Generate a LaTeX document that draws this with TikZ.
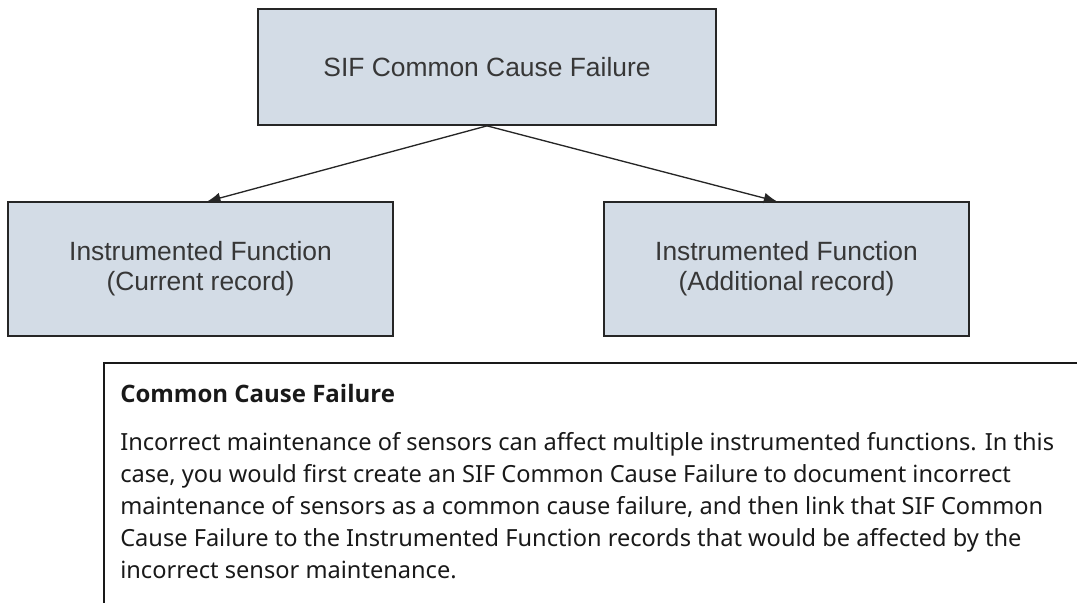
\documentclass[tikz,border=0pt]{standalone}
\usepackage{fontspec}
\setmainfont{Noto Sans}
\newfontfamily\headfont{Open Sans}
\newfontfamily\boxfont{Liberation Sans}
\usetikzlibrary{arrows.meta,positioning}
\definecolor{boxfill}{RGB}{211,220,230}
\definecolor{boxtext}{RGB}{55,55,55}
\tikzset{
  blk/.style={rectangle, draw=black!85, line width=1.3pt, fill=boxfill,
              align=center, text=boxtext, font=\boxfont\fontsize{19.8}{22.5}\selectfont},
  ar/.style={-{Latex[length=10pt,width=8pt]}, line width=1pt, black!85},
  frame/.style={line width=1.5pt, black!90},
  note/.style={anchor=base west, inner sep=0pt, align=left, text=black!90,
               font=\fontsize{17.7}{24}\selectfont},
}

\begin{document}
\begin{tikzpicture}[x=0.75pt,y=-0.75pt]
\useasboundingbox (0,0) rectangle (1077,603);
% boxes
\node[blk, minimum width=343pt, minimum height=87pt] (sif) at (487,67) {SIF Common Cause Failure};
\node[blk, minimum width=289pt, minimum height=100pt] (cur) at (200.5,269)
  {Instrumented Function\\(Current record)};
\node[blk, minimum width=274pt, minimum height=100pt] (add) at (786.5,269)
  {Instrumented Function\\(Additional record)};
\draw[ar] (sif.south) -- ([xshift=5pt]cur.north);
\draw[ar] (sif.south) -- ([xshift=-7pt]add.north);
% note
\coordinate (ntl) at (104,363);
\coordinate (ntr) at (1077,363);
\coordinate (nbl) at (104,603);
\draw[frame] (ntr) -- (ntl) -- (nbl);
\node[note, font=\headfont\bfseries\fontsize{18}{24}\selectfont] (head) at (120,402) {Common Cause Failure};
\node[note] (body) at (120,578)
  {Incorrect maintenance of sensors can affect multiple instrumented functions. In this\\
   case, you would first create an SIF Common Cause Failure to document incorrect\\
   maintenance of sensors as a common cause failure, and then link that SIF Common\\
   Cause Failure to the Instrumented Function records that would be affected by the\\
   incorrect sensor maintenance.};
\end{tikzpicture}
\end{document}
